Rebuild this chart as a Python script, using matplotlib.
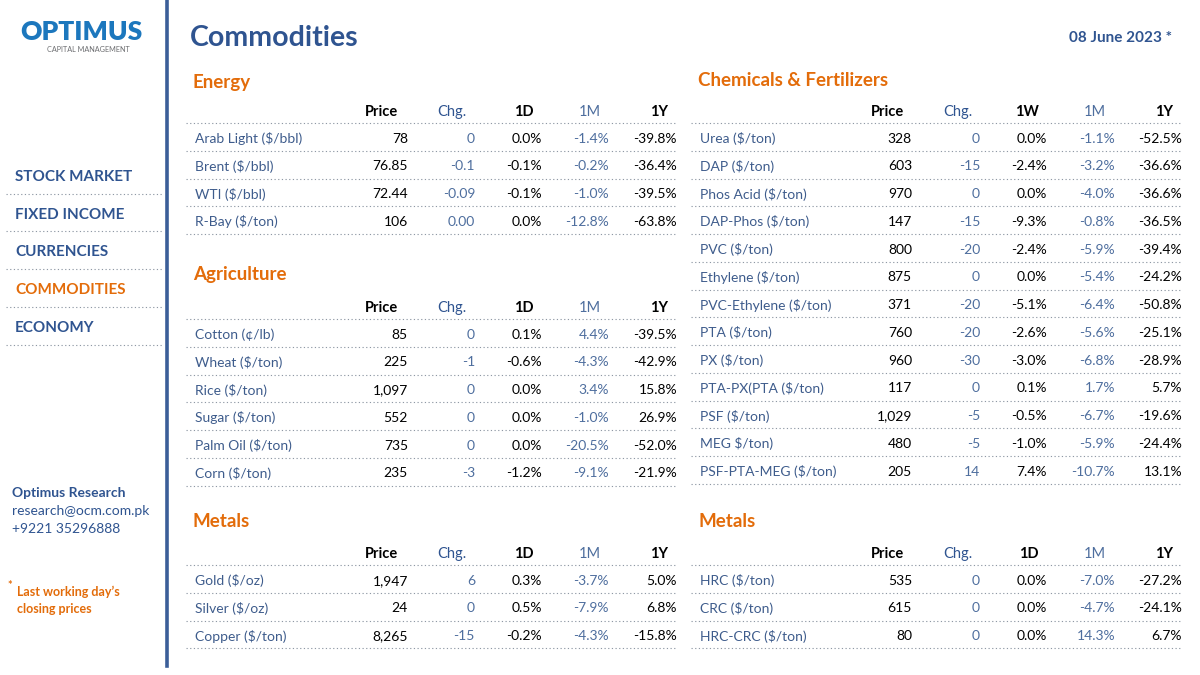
import matplotlib.pyplot as plt

plt.rcParams['font.family'] = ['Lato', 'DejaVu Sans']

# colours
NAVY = '#2F5490'
LABEL = '#3E5C8C'
SOFT = '#4E6E9E'
ORANGE = '#E36C0A'
DOTS = '#8F98A4'

# ---- data ----
energy_names = ['Arab Light ($/bbl)', 'Brent ($/bbl)', 'WTI ($/bbl)', 'R-Bay ($/ton)']
energy_price = ['78', '76.85', '72.44', '106']
energy_chg = ['0', '-0.1', '-0.09', '0.00']
energy_1d = [0.0, -0.1, -0.1, 0.0]
energy_1m = [-1.4, -0.2, -1.0, -12.8]
energy_1y = [-39.8, -36.4, -39.5, -63.8]

agri_names = ['Cotton (¢/lb)', 'Wheat ($/ton)', 'Rice ($/ton)', 'Sugar ($/ton)',
              'Palm Oil ($/ton)', 'Corn ($/ton)']
agri_price = ['85', '225', '1,097', '552', '735', '235']
agri_chg = ['0', '-1', '0', '0', '0', '-3']
agri_1d = [0.1, -0.6, 0.0, 0.0, 0.0, -1.2]
agri_1m = [4.4, -4.3, 3.4, -1.0, -20.5, -9.1]
agri_1y = [-39.5, -42.9, 15.8, 26.9, -52.0, -21.9]

metal_names = ['Gold ($/oz)', 'Silver ($/oz)', 'Copper ($/ton)']
metal_price = ['1,947', '24', '8,265']
metal_chg = ['6', '0', '-15']
metal_1d = [0.3, 0.5, -0.2]
metal_1m = [-3.7, -7.9, -4.3]
metal_1y = [5.0, 6.8, -15.8]

chem_names = ['Urea ($/ton)', 'DAP ($/ton)', 'Phos Acid ($/ton)', 'DAP-Phos ($/ton)',
              'PVC ($/ton)', 'Ethylene ($/ton)', 'PVC-Ethylene ($/ton)', 'PTA ($/ton)',
              'PX ($/ton)', 'PTA-PX(PTA ($/ton)', 'PSF ($/ton)', 'MEG $/ton)',
              'PSF-PTA-MEG ($/ton)']
chem_price = ['328', '603', '970', '147', '800', '875', '371', '760', '960', '117',
              '1,029', '480', '205']
chem_chg = ['0', '-15', '0', '-15', '-20', '0', '-20', '-20', '-30', '0', '-5', '-5', '14']
chem_1w = [0.0, -2.4, 0.0, -9.3, -2.4, 0.0, -5.1, -2.6, -3.0, 0.1, -0.5, -1.0, 7.4]
chem_1m = [-1.1, -3.2, -4.0, -0.8, -5.9, -5.4, -6.4, -5.6, -6.8, 1.7, -6.7, -5.9, -10.7]
chem_1y = [-52.5, -36.6, -36.6, -36.5, -39.4, -24.2, -50.8, -25.1, -28.9, 5.7, -19.6,
           -24.4, 13.1]

steel_names = ['HRC ($/ton)', 'CRC ($/ton)', 'HRC-CRC ($/ton)']
steel_price = ['535', '615', '80']
steel_chg = ['0', '0', '0']
steel_1d = [0.0, 0.0, 0.0]
steel_1m = [-7.0, -4.7, 14.3]
steel_1y = [-27.2, -24.1, 6.7]

menu = ['STOCK MARKET', 'FIXED INCOME', 'CURRENCIES', 'COMMODITIES', 'ECONOMY']

ROW = 27.75
FS = 10
DY = 1.8  # small nudge so text sits on the same baseline as the slide


def dotted(ax, x0, x1, y):
    ax.plot([x0, x1], [y, y], color=DOTS, lw=0.8, ls=(0, (1.1, 2.2)),
            solid_capstyle='butt')


def draw_table(ax, title, title_y, hdr_y, x_lab, x_line, hdr, names, price, chg,
               c3, c4, c5, val_x, hdr_x):
    ax.text(x_lab - 2, title_y + DY, title, color=ORANGE, fontsize=13.5,
            fontweight='bold', va='center', ha='left')
    hdr_col = ['black', NAVY, 'black', SOFT, 'black']
    hdr_wt = ['bold', 'normal', 'bold', 'normal', 'bold']
    for h, x, c, w in zip(hdr, hdr_x, hdr_col, hdr_wt):
        ax.text(x, hdr_y + DY, h, ha='right', va='center', fontsize=10.5, color=c,
                fontweight=w)
    y_line = hdr_y + 13
    dotted(ax, x_line[0], x_line[1], y_line)
    for i, name in enumerate(names):
        y = y_line + ROW * i + ROW / 2 + DY
        cells = [price[i], chg[i], f'{c3[i]:.1f}%', f'{c4[i]:.1f}%', f'{c5[i]:.1f}%']
        cols = ['black', SOFT, 'black', SOFT, 'black']
        ax.text(x_lab, y, name, ha='left', va='center', fontsize=FS, color=LABEL)
        for s, x, c in zip(cells, val_x, cols):
            ax.text(x, y, s, ha='right', va='center', fontsize=FS, color=c)
        dotted(ax, x_line[0], x_line[1], y_line + ROW * (i + 1))


fig = plt.figure(figsize=(12, 6.75), dpi=100)
ax = fig.add_axes([0, 0, 1, 1])
ax.set_xlim(0, 1200)
ax.set_ylim(675, 0)
ax.axis('off')

# sidebar
ax.plot([167, 167], [0, 666], color='#3B5E98', lw=2.6)
ax.text(81, 40.5, 'OPTIMUS', ha='center', va='baseline', fontsize=19,
        fontweight='heavy', color='#1C77BD')
ax.text(88, 50, 'CAPITAL MANAGEMENT', ha='center', va='center', fontsize=5.2,
        color='#6D6E71')
for i, m in enumerate(menu):
    y = 175 + i * 37.8
    ax.text(15, y + DY, m, ha='left', va='center', fontsize=11, fontweight='bold',
            color=ORANGE if m == 'COMMODITIES' else NAVY)
    dotted(ax, 6, 162, y + 18.5)
ax.text(12, 491 + DY, 'Optimus Research', fontsize=10, fontweight='bold', color=NAVY,
        va='center')
ax.text(12, 509 + DY, 'research@ocm.com.pk', fontsize=10, color=NAVY, va='center')
ax.text(12, 527 + DY, '+9221 35296888', fontsize=10, color=NAVY, va='center')
ax.text(7, 586, '*', fontsize=8, fontweight='bold', color=ORANGE, va='center')
ax.text(17, 590 + DY, 'Last working day’s', fontsize=9, fontweight='bold',
        color=ORANGE, va='center')
ax.text(17, 607 + DY, 'closing prices', fontsize=9, fontweight='bold', color=ORANGE,
        va='center')

# header
ax.text(190, 36 + DY, 'Commodities', fontsize=20.5, fontweight='bold', color=NAVY,
        va='center', ha='left')
ax.text(1172, 36 + DY, '08 June 2023 *', fontsize=11, fontweight='bold', color=NAVY,
        va='center', ha='right')

# left tables
lx_val = [408, 475, 542, 609, 677]
lx_hdr = [398, 467, 534, 601, 668]
left_line = (186, 677)
draw_table(ax, 'Energy', 81, 110, 195, left_line, ['Price', 'Chg.', '1D', '1M', '1Y'],
           energy_names, energy_price, energy_chg, energy_1d, energy_1m, energy_1y,
           lx_val, lx_hdr)
draw_table(ax, 'Agriculture', 273, 306, 195, left_line, ['Price', 'Chg.', '1D', '1M', '1Y'],
           agri_names, agri_price, agri_chg, agri_1d, agri_1m, agri_1y, lx_val, lx_hdr)
draw_table(ax, 'Metals', 520, 552, 195, left_line, ['Price', 'Chg.', '1D', '1M', '1Y'],
           metal_names, metal_price, metal_chg, metal_1d, metal_1m, metal_1y,
           lx_val, lx_hdr)

# right tables
rx_val = [912, 980, 1047, 1115, 1182]
rx_hdr = [904, 972, 1039, 1106, 1173]
right_line = (691, 1182)
draw_table(ax, 'Chemicals & Fertilizers', 79, 110, 700, right_line,
           ['Price', 'Chg.', '1W', '1M', '1Y'], chem_names, chem_price, chem_chg,
           chem_1w, chem_1m, chem_1y, rx_val, rx_hdr)
draw_table(ax, 'Metals', 520, 552, 700, right_line, ['Price', 'Chg.', '1D', '1M', '1Y'],
           steel_names, steel_price, steel_chg, steel_1d, steel_1m, steel_1y,
           rx_val, rx_hdr)

fig.savefig('out.png', dpi=100, facecolor='white')
